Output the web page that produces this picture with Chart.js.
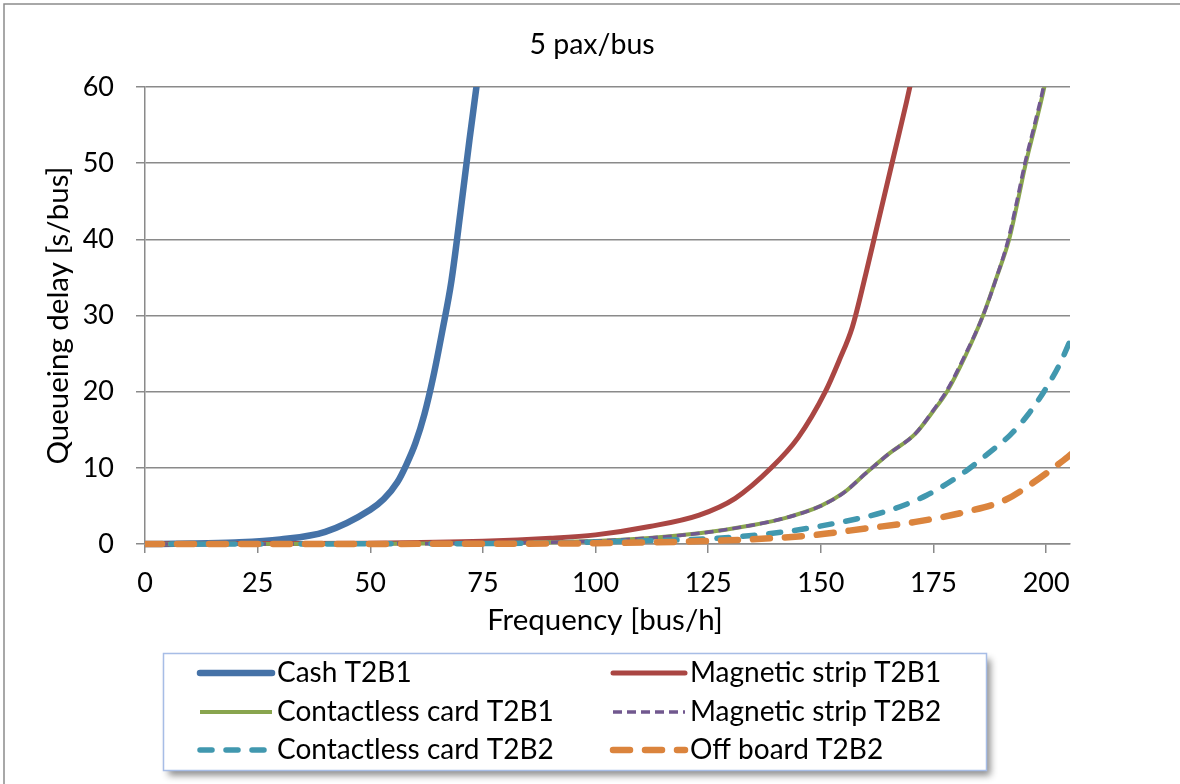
<!DOCTYPE html>
<html>
<head>
<meta charset="utf-8">
<title>Queueing delay</title>
<script src="https://cdn.jsdelivr.net/npm/chart.js@4.4.1/dist/chart.umd.min.js"></script>
<style>
  html, body { margin: 0; padding: 0; background: #fff; overflow: hidden; }
  canvas { display: block; }
</style>
</head>
<body>
<canvas id="delayChart" width="1180" height="784"></canvas>
<script>
// frequency [bus/h] / queueing delay [s/bus] pairs per payment scheme
const cashFreq = [0, 10, 20, 30, 40, 50, 53, 56, 58, 60, 62, 64, 66, 68, 70, 72, 74, 76];
const cashDelay = [0, 0.05, 0.2, 0.6, 1.6, 4.5, 5.9, 8.1, 10.4, 13.2, 17, 22, 28, 34.5, 43.5, 53, 62, 72];

const magT2B1Freq = [0, 25, 50, 75, 90, 100, 112, 123, 131, 139, 145, 151, 154, 157, 160, 163, 166, 169, 172];
const magT2B1Delay = [0, 0.05, 0.1, 0.35, 0.75, 1.2, 2.3, 3.8, 6, 10, 14, 20, 24, 28.5, 35.5, 43, 50.5, 58, 66];

const contactT2B1Freq = [0, 50, 75, 100, 112, 123, 135, 142, 150, 155, 160, 165, 171, 175, 178, 182, 186, 189, 191.8, 193.7, 195.5, 197.6, 199.6, 201.2];
const contactT2B1Delay = [0, 0.02, 0.1, 0.4, 0.8, 1.4, 2.5, 3.4, 5, 6.7, 9.3, 11.8, 14.5, 17.5, 20, 24.6, 30, 35, 40, 45, 50, 55, 60, 65];

const magT2B2Freq = [0, 50, 75, 100, 112, 123, 135, 142, 150, 155, 160, 165, 171, 175, 178, 182, 186, 189, 191.6, 193.5, 195.3, 197.4, 199.4, 201];
const magT2B2Delay = [0, 0.02, 0.1, 0.4, 0.8, 1.4, 2.5, 3.4, 5, 6.7, 9.3, 11.8, 14.5, 17.6, 20.2, 24.8, 30, 35, 40, 45, 50, 55, 60, 65];

const contactT2B2Freq = [0, 50, 75, 100, 115, 127, 142, 153, 164, 173.5, 182, 188, 192, 196, 199.5, 203, 206];
const contactT2B2Delay = [0, 0.02, 0.05, 0.25, 0.5, 0.75, 1.6, 2.7, 4.2, 6.4, 9.5, 12.3, 14.3, 17, 20, 23.6, 27.6];

const offBoardFreq = [0, 75, 100, 119, 134, 149, 160, 171, 182, 191, 197, 203, 206];
const offBoardDelay = [0, 0.03, 0.1, 0.3, 0.6, 1.2, 2.05, 2.9, 4.2, 5.8, 8, 10.6, 12];

const xTicks = [0, 25, 50, 75, 100, 125, 150, 175, 200];
const yTicks = [0, 10, 20, 30, 40, 50, 60];

const chartTitle = '5 pax/bus';
const xTitle = 'Frequency [bus/h]';
const yTitle = 'Queueing delay [s/bus]';

const FONT = 'Lato, "Open Sans", sans-serif';
const GRID = '#8a8a8a';

const toPoints = (xs, ys) => xs.map((x, i) => ({ x, y: ys[i] }));

const series = [
    { label: 'Cash T2B1', data: toPoints(cashFreq, cashDelay), color: '#4572A7', width: 6.5, dash: [], cap: 'round', order: 6 },
    { label: 'Magnetic strip T2B1', data: toPoints(magT2B1Freq, magT2B1Delay), color: '#AA4643', width: 5, dash: [], cap: 'round', order: 5 },
    { label: 'Contactless card T2B1', data: toPoints(contactT2B1Freq, contactT2B1Delay), color: '#89A54E', width: 4, dash: [], cap: 'butt', order: 4 },
    { label: 'Magnetic strip T2B2', data: toPoints(magT2B2Freq, magT2B2Delay), color: '#71588F', width: 3.5, dash: [9, 5], cap: 'butt', order: 3 },
    { label: 'Contactless card T2B2', data: toPoints(contactT2B2Freq, contactT2B2Delay), color: '#4198AF', width: 5.5, dash: [12, 14], cap: 'round', order: 2 },
    { label: 'Off board T2B2', data: toPoints(offBoardFreq, offBoardDelay), color: '#DB843D', width: 6.5, dash: [17, 15], cap: 'round', order: 1 }
];

// frame, title, axis titles and the boxed two-column legend
const decorations = {
    id: 'decorations',
    beforeDraw(chart) {
        const ctx = chart.ctx;
        ctx.save();
        ctx.fillStyle = '#fff';
        ctx.fillRect(0, 0, chart.width, chart.height);
        ctx.strokeStyle = '#8c8c8c';
        ctx.lineWidth = 1.5;
        ctx.beginPath();
        ctx.moveTo(4, chart.height);
        ctx.lineTo(4, 4);
        ctx.lineTo(chart.width, 4);
        ctx.stroke();
        ctx.restore();
    },
    afterDraw(chart) {
        const ctx = chart.ctx;
        const area = chart.chartArea;
        ctx.save();
        ctx.fillStyle = '#000';
        ctx.textBaseline = 'middle';
        ctx.textAlign = 'center';

        ctx.font = `28.5px ${FONT}`;
        ctx.fillText(chartTitle, 592, 45);

        ctx.font = `29.5px ${FONT}`;
        ctx.fillText(xTitle, 605, 620);

        ctx.save();
        ctx.translate(58, (area.top + area.bottom) / 2);
        ctx.rotate(-Math.PI / 2);
        ctx.fillText(yTitle, 0, 0);
        ctx.restore();

        // legend box with drop shadow
        const box = { x: 163.5, y: 653.5, w: 823, h: 117 };
        ctx.save();
        ctx.shadowColor = 'rgba(0,0,0,0.45)';
        ctx.shadowBlur = 7;
        ctx.shadowOffsetX = 4;
        ctx.shadowOffsetY = 5;
        ctx.fillStyle = '#fff';
        ctx.fillRect(box.x, box.y, box.w, box.h);
        ctx.restore();
        ctx.strokeStyle = '#a7bde6';
        ctx.lineWidth = 1.5;
        ctx.strokeRect(box.x, box.y, box.w, box.h);

        const colX = [200, 613];
        const rowY = [673, 712, 750];
        ctx.font = `28px ${FONT}`;
        ctx.textAlign = 'left';
        chart.data.datasets.forEach((ds, i) => {
            const x = colX[i % 2];
            const y = rowY[Math.floor(i / 2)];
            ctx.save();
            ctx.strokeStyle = ds.borderColor;
            ctx.lineWidth = ds.borderWidth;
            ctx.lineCap = ds.borderCapStyle;
            ctx.setLineDash(ds.borderDash);
            ctx.beginPath();
            ctx.moveTo(x, y);
            ctx.lineTo(x + 72, y);
            ctx.stroke();
            ctx.restore();
            ctx.fillStyle = '#000';
            ctx.fillText(ds.label, x + 77, y);
        });
        ctx.restore();
    }
};

new Chart(document.getElementById('delayChart'), {
    type: 'line',
    data: {
        datasets: series.map(s => ({
            label: s.label,
            data: s.data,
            borderColor: s.color,
            backgroundColor: s.color,
            borderWidth: s.width,
            borderDash: s.dash,
            borderCapStyle: s.cap,
            borderJoinStyle: 'round',
            pointRadius: 0,
            cubicInterpolationMode: 'monotone',
            order: s.order,
            clip: { left: 0, top: 0, right: 0, bottom: 10 }
        }))
    },
    options: {
        responsive: false,
        animation: false,
        layout: { padding: { left: 0, top: 87, right: 110, bottom: 0 } },
        plugins: {
            legend: { display: false },
            title: { display: false },
            tooltip: { enabled: false }
        },
        scales: {
            x: {
                type: 'linear',
                min: 0,
                max: 205.3,
                afterFit: (scale) => { scale.height = 240; },
                afterBuildTicks: (scale) => { scale.ticks = xTicks.map(v => ({ value: v })); },
                grid: { drawOnChartArea: false, drawTicks: true, tickLength: 9, color: GRID, lineWidth: 1.5 },
                border: { display: true, color: GRID, width: 1.5 },
                ticks: { color: '#000', font: { family: FONT, size: 27 }, padding: 14, maxRotation: 0 }
            },
            y: {
                type: 'linear',
                min: 0,
                max: 60,
                afterFit: (scale) => { scale.width = 145; },
                afterBuildTicks: (scale) => { scale.ticks = yTicks.map(v => ({ value: v })); },
                grid: { drawOnChartArea: true, drawTicks: true, tickLength: 9, color: GRID, lineWidth: 1.5 },
                border: { display: true, color: GRID, width: 1.5 },
                ticks: { color: '#000', font: { family: FONT, size: 27 }, padding: 22 }
            }
        }
    },
    plugins: [decorations]
});
</script>
</body>
</html>
